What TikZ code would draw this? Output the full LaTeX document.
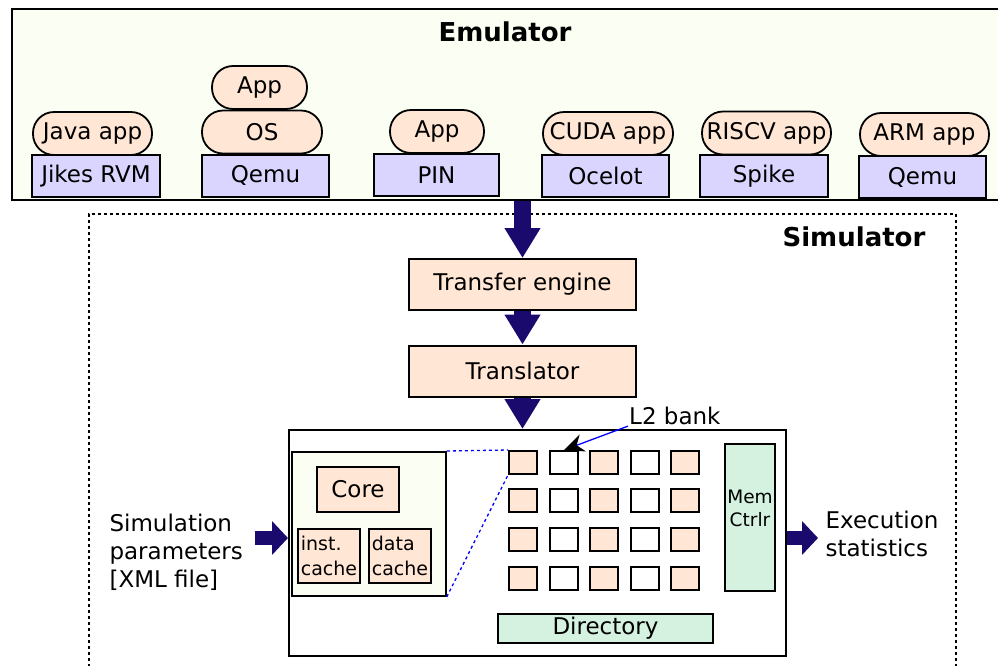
\documentclass[tikz,border=0pt]{standalone}
\usepackage{fontspec}
\setmainfont{DejaVu Sans}
\usetikzlibrary{arrows.meta}

\definecolor{emubg}{RGB}{251,255,243}
\definecolor{peach}{RGB}{255,230,213}
\definecolor{lavender}{RGB}{217,213,255}
\definecolor{mint}{RGB}{213,242,225}
\definecolor{navy}{RGB}{26,10,110}

\tikzset{
  hostbox/.style={draw, line width=2pt, fill=lavender, minimum height=42pt, inner sep=0pt},
  appbox/.style={draw, line width=1.8pt, fill=peach, rounded corners=21pt, minimum height=43pt, inner sep=0pt},
  stagebox/.style={draw, line width=2pt, fill=peach, minimum width=227pt, minimum height=51pt},
  cachebox/.style={draw, line width=2pt, fill=peach, minimum width=62pt, minimum height=54pt,
    inner sep=2pt, align=left, font=\fontsize{19}{25}\selectfont},
  bankbox/.style={draw, line width=2pt, minimum width=28pt, minimum height=23pt, inner sep=0pt},
  bigarrow/.style={navy, line width=17pt, -{Triangle[length=30pt,width=34pt]}},
  sidearrow/.style={navy, line width=14pt, -{Triangle[length=16pt,width=33pt]}},
  boldtitle/.style={font=\fontsize{26}{30}\selectfont\bfseries},
}

\begin{document}
\begin{tikzpicture}[x=1pt,y=-1pt,font=\fontsize{23}{28}\selectfont]
  \useasboundingbox (0,0) rectangle (998,665);

  % emulator part
  \node[draw, line width=2pt, fill=emubg, anchor=north west,
    minimum width=1000pt, minimum height=191pt] (emu) at (11,8) {};
  \node[boldtitle] (emutitle) at (505,32) {Emulator};

  \node[appbox, minimum width=119pt] (javaapp) at (92.5,133.5) {Java app};
  \node[hostbox, minimum width=128pt] (jikes) at (96,176) {Jikes RVM};

  \node[appbox, minimum width=95pt] (qemuapp) at (259.5,87.5) {App};
  \node[appbox, minimum width=120pt] (qemuos) at (262,132) {OS};
  \node[hostbox, minimum width=127pt] (qemuA) at (265.5,175.5) {Qemu};

  \node[appbox, minimum width=94pt] (pinapp) at (437,131.5) {App};
  \node[hostbox, minimum width=125pt] (pin) at (436.5,175) {PIN};

  \node[appbox, minimum width=130pt] (cudaapp) at (608,133.5) {CUDA app};
  \node[hostbox, minimum width=127pt] (ocelot) at (605.5,176) {Ocelot};

  \node[appbox, minimum width=129pt] (riscvapp) at (766.5,133) {RISCV app};
  \node[hostbox, minimum width=128pt] (spike) at (764,176) {Spike};

  \node[appbox, minimum width=129pt] (armapp) at (924.5,134.5) {ARM app};
  \node[hostbox, minimum width=127pt] (qemuB) at (922.5,177) {Qemu};

  % simulator part
  \node[draw, line width=1.8pt, dash pattern=on 3pt off 3pt, anchor=north west,
    minimum width=867pt, minimum height=480pt] (sim) at (88,213) {};
  \node[boldtitle] (simtitle) at (854,237) {Simulator};

  \node[stagebox] (xfer) at (522.5,284.5) {Transfer engine};
  \node[stagebox] (transl) at (522.5,371) {Translator};

  \node[draw, line width=2pt, fill=white, anchor=north west,
    minimum width=497pt, minimum height=226pt] (chip) at (288,429) {};

  % one tile
  \node[draw, line width=1.8pt, fill=emubg, anchor=north west,
    minimum width=154pt, minimum height=144pt] (tile) at (291,451) {};
  \node[draw, line width=2pt, fill=peach, minimum width=82pt, minimum height=45pt] (core) at (358,489.5) {Core};
  \node[cachebox] (icache) at (329,556) {inst.\\cache};
  \node[cachebox] (dcache) at (400,556) {data\\cache};

  % L2 banks
  \foreach \c/\x/\clr in {1/523/peach, 2/564/white, 3/604/peach, 4/645/white, 5/685/peach}
    \foreach \r/\y in {1/462.5, 2/500.5, 3/539.5, 4/578.5}
      \node[bankbox, fill=\clr] (l2-\c-\r) at (\x,\y) {};

  \node[draw, line width=2pt, fill=mint, minimum width=50pt, minimum height=147pt,
    inner sep=0pt, align=center, font=\fontsize{18.5}{23}\selectfont] (memctrl) at (750,517.5) {Mem\\Ctrlr\\[-5pt]};
  \node[draw, line width=2pt, fill=mint, minimum width=215pt, minimum height=29pt,
    inner sep=0pt] (dir) at (605.5,628.5) {Directory};

  \draw[blue, dashed, line width=1.3pt] (tile.north east) -- (l2-1-1.north west);
  \draw[blue, dashed, line width=1.3pt] (tile.south east) -- (l2-1-1.south west);

  \node[inner sep=1pt, anchor=west] (l2lbl) at (628,416) {L2 bank};
  \draw[blue, line width=1.3pt, -{Stealth[black, length=20pt, width=18pt]}] (l2lbl.south west) -- (l2-2-1.north);

  % flow
  \draw[bigarrow] (emu.south -| xfer.north) -- (xfer.north);
  \draw[bigarrow] (xfer.south) -- (transl.north);
  \draw[bigarrow] (transl.south) -- (transl.south |- chip.north);

  \node[anchor=west, align=left] (simpar) at (106,552) {Simulation\\parameters\\{}[XML file]};
  \node[anchor=west, align=left] (execstat) at (822,534) {Execution\\statistics};
  \coordinate (parin) at (255,538);
  \coordinate (statout) at (818,538);
  \draw[sidearrow] (parin) -- (parin -| chip.west);
  \draw[sidearrow] (statout -| chip.east) -- (statout);
\end{tikzpicture}
\end{document}
